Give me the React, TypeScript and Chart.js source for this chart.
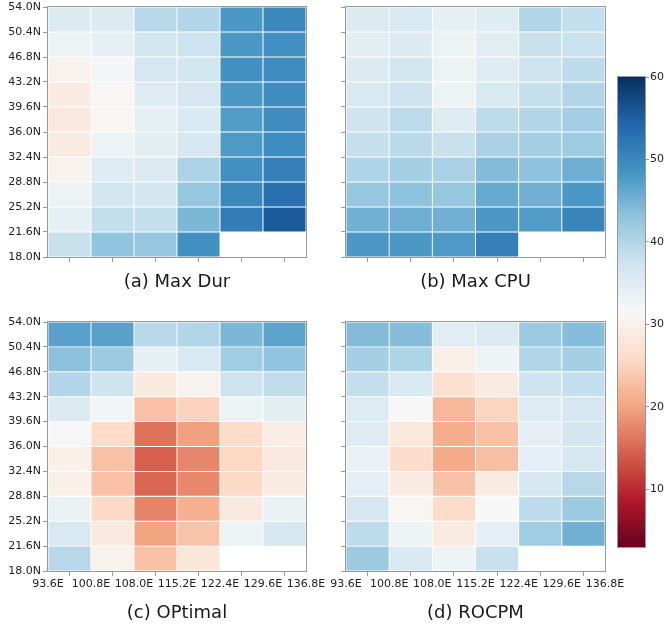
import React, { useEffect, useRef } from 'react';
import { Chart, registerables } from 'chart.js';
Chart.register(...registerables);

// ---------- data ----------
const lonTicks = [93.6, 100.8, 108.0, 115.2, 122.4, 129.6, 136.8];
const latTicks = [18.0, 21.6, 25.2, 28.8, 32.4, 36.0, 39.6, 43.2, 46.8, 50.4, 54.0];
const colorbarTicks = [10, 20, 30, 40, 50, 60];
const vmin = 3;
const vmax = 60;

// rows listed from north (50.4N-54.0N) to south (18.0N-21.6N), columns west -> east
const maxDur = [
  [35.5, 35.5, 39.5, 40, 48, 50],
  [33, 34, 37, 37.5, 48, 49],
  [30.5, 32, 36.5, 37, 49, 49.5],
  [29, 31, 35, 36.5, 48, 49.5],
  [28.5, 31, 34, 36, 47.5, 49.5],
  [29, 33, 34.5, 36.5, 47.8, 49.5],
  [30.5, 35, 35.5, 40.5, 49, 51],
  [33, 37, 36.7, 42.5, 50, 53],
  [34, 38.5, 38.5, 44.5, 51.5, 55.5],
  [38, 43, 42.5, 49, null, null],
];

const maxCPU = [
  [35.5, 36, 34, 35, 40, 38.5],
  [34.5, 35.5, 33, 34.8, 38, 37.8],
  [35.5, 37, 33, 35, 37.5, 39],
  [36, 37.5, 33, 36, 38.3, 40],
  [37.3, 39, 35, 39, 40, 41.3],
  [38.3, 39.3, 38, 40.7, 41.3, 41.8],
  [40.2, 41.3, 40.7, 44, 43.2, 45.5],
  [42.5, 43.2, 42.5, 46, 45.3, 48],
  [45.3, 45.5, 45.3, 48, 47.5, 50.5],
  [48, 48, 47.8, 51, null, null],
];

const optimal = [
  [47, 47, 39.5, 40, 44.5, 46.7],
  [43.3, 42, 34, 36, 41.5, 43],
  [40, 37.4, 28.7, 30.5, 37.5, 38.7],
  [35.5, 32.3, 23, 25, 33, 34.5],
  [31.7, 26, 16, 19.8, 26, 29.5],
  [30, 23, 14.4, 17.5, 25.5, 28.6],
  [30, 23, 15, 17.8, 25.7, 29],
  [33.5, 25.7, 17.3, 21.2, 28.6, 33.5],
  [36, 28.6, 20, 23.3, 33, 36.5],
  [39.5, 30.5, 23.1, 28, null, null],
];

const rocpm = [
  [44, 43.8, 34.8, 35.5, 42, 43.8],
  [41.2, 40.3, 29.8, 32.8, 40, 41.2],
  [38.5, 36, 27, 29, 37.4, 38.5],
  [35.4, 31.5, 22, 25.2, 35.2, 36.5],
  [35.2, 28.4, 21, 23.1, 34.2, 36.8],
  [33.5, 26.3, 20.6, 22.8, 34.2, 36.5],
  [34.3, 29, 23.2, 29, 36.5, 39.5],
  [36.5, 31, 26, 31.5, 39, 42],
  [39, 33, 29, 34.2, 41.5, 45.3],
  [42, 36, 32.8, 38, null, null],
];

const panelTitles = ['(a) Max Dur', '(b) Max CPU', '(c) OPtimal', '(d) ROCPM'];

// ---------- colormap (RdBu) ----------
const RDBU = ['#67001f', '#b2182b', '#d6604d', '#f4a582', '#fddbc7', '#f7f7f7', '#d1e5f0', '#92c5de', '#4393c3', '#2166ac', '#053061'];
function hex(h: string) {
  return [parseInt(h.slice(1, 3), 16), parseInt(h.slice(3, 5), 16), parseInt(h.slice(5, 7), 16)];
}
function cmap(v: number) {
  let t = (v - vmin) / (vmax - vmin);
  t = Math.max(0, Math.min(1, t));
  const s = t * 10;
  const i = Math.min(9, Math.floor(s));
  const f = s - i;
  const a = hex(RDBU[i]);
  const b = hex(RDBU[i + 1]);
  const c = a.map((x, k) => Math.round(x + (b[k] - x) * f));
  return `rgb(${c[0]},${c[1]},${c[2]})`;
}

const FONT = 'DejaVu Sans';
const W = 664;
const H = 625;

const framePlugin = {
  id: 'frame',
  afterDraw(chart: any) {
    const { ctx, chartArea: a } = chart;
    ctx.save();
    ctx.strokeStyle = '#999999';
    ctx.lineWidth = 1;
    const l = Math.round(a.left) - 0.5;
    const t = Math.round(a.top) - 0.5;
    const r = Math.round(a.right) + 0.5;
    const b = Math.round(a.bottom) + 0.5;
    ctx.strokeRect(l, t, r - l, b - t);
    ctx.restore();
  },
};

type PanelLayout = { left: number; top: number; width: number; height: number; showX: boolean; showY: boolean };
const layouts: PanelLayout[] = [
  { left: 48, top: 7, width: 258, height: 250, showX: false, showY: true },
  { left: 346, top: 7, width: 259, height: 250, showX: false, showY: false },
  { left: 48, top: 322, width: 258, height: 249, showX: true, showY: true },
  { left: 346, top: 322, width: 259, height: 249, showX: true, showY: false },
];
const titlePos = [
  { cx: 177, top: 270 },
  { cx: 475.5, top: 270 },
  { cx: 177, top: 601 },
  { cx: 475.5, top: 601 },
];

function buildDatasets(values: (number | null)[][]) {
  return values.map((row, r) => {
    const lo = latTicks[values.length - 1 - r];
    const hi = latTicks[values.length - r];
    const data: any[] = [];
    const colors: string[] = [];
    row.forEach((v, c) => {
      if (v === null) return;
      data.push({ x: (lonTicks[c] + lonTicks[c + 1]) / 2, y: [lo, hi] });
      colors.push(cmap(v));
    });
    return {
      data,
      backgroundColor: colors,
      borderColor: '#ffffff',
      borderWidth: 0.8,
      borderSkipped: false,
      grouped: false,
      barPercentage: 1,
      categoryPercentage: 1,
    };
  });
}

function makePanel(canvas: HTMLCanvasElement, values: (number | null)[][], L: PanelLayout) {
  const xAxisH = 20;
  return new Chart(canvas, {
    type: 'bar',
    data: { datasets: buildDatasets(values) as any },
    plugins: [framePlugin],
    options: {
      animation: false,
      responsive: false,
      events: [],
      layout: {
        autoPadding: false,
        padding: {
          left: L.left - 48,
          top: L.top,
          right: W - (L.left + L.width),
          bottom: H - (L.top + L.height) - xAxisH,
        },
      },
      plugins: { legend: { display: false }, tooltip: { enabled: false }, title: { display: false } },
      scales: {
        x: {
          type: 'linear',
          min: lonTicks[0],
          max: lonTicks[lonTicks.length - 1],
          offset: false,
          border: { display: false },
          grid: { drawOnChartArea: false, drawTicks: true, tickLength: 5, color: '#999999', lineWidth: 1 },
          ticks: {
            autoSkip: false,
            maxRotation: 0,
            minRotation: 0,
            padding: 2,
            color: '#222222',
            font: { family: FONT, size: 11 },
            callback: (v: any) => (L.showX ? `${Number(v).toFixed(1)}E` : ''),
          },
          afterBuildTicks: (s: any) => {
            s.ticks = lonTicks.map((v) => ({ value: v }));
          },
          afterFit: (s: any) => {
            s.height = xAxisH;
            s.paddingLeft = 0;
            s.paddingRight = 0;
          },
        } as any,
        y: {
          type: 'linear',
          min: latTicks[0],
          max: latTicks[latTicks.length - 1],
          border: { display: false },
          grid: { drawOnChartArea: false, drawTicks: true, tickLength: 5, color: '#999999', lineWidth: 1 },
          ticks: {
            autoSkip: false,
            padding: 2,
            color: '#222222',
            font: { family: FONT, size: 11 },
            callback: (v: any) => (L.showY ? `${Number(v).toFixed(1)}N` : ''),
          },
          afterBuildTicks: (s: any) => {
            s.ticks = latTicks.map((v) => ({ value: v }));
          },
          afterFit: (s: any) => {
            s.width = 48;
            s.paddingTop = 0;
            s.paddingBottom = 0;
          },
        } as any,
      },
    },
  });
}

function makeColorbar(canvas: HTMLCanvasElement) {
  const cb = { left: 618, top: 77, right: 645, bottom: 547 };
  return new Chart(canvas, {
    type: 'bar',
    data: {
      labels: ['colorbar'],
      datasets: [
        {
          data: [[vmin, vmax]] as any,
          backgroundColor: (ctx: any) => {
            const chart = ctx.chart;
            const ys = chart.scales && chart.scales.y;
            if (!chart.chartArea || !ys) return cmap((vmin + vmax) / 2);
            const g = chart.ctx.createLinearGradient(0, ys.getPixelForValue(vmin), 0, ys.getPixelForValue(vmax));
            RDBU.forEach((c, i) => g.addColorStop(i / 10, c));
            return g;
          },
          borderWidth: 0,
          barPercentage: 1,
          categoryPercentage: 1,
        },
      ],
    },
    plugins: [framePlugin],
    options: {
      animation: false,
      responsive: false,
      events: [],
      layout: { autoPadding: false, padding: { left: cb.left, top: cb.top, right: 0, bottom: H - cb.bottom } },
      plugins: { legend: { display: false }, tooltip: { enabled: false } },
      scales: {
        x: {
          display: false,
          afterFit: (s: any) => {
            s.height = 0;
            s.paddingLeft = 0;
            s.paddingRight = 0;
          },
        } as any,
        y: {
          position: 'right',
          min: vmin,
          max: vmax,
          border: { display: false },
          grid: { drawOnChartArea: false, drawTicks: true, tickLength: 4, color: '#999999' },
          ticks: { padding: 1, color: '#222222', font: { family: FONT, size: 11 } },
          afterBuildTicks: (s: any) => {
            s.ticks = colorbarTicks.map((v) => ({ value: v }));
          },
          afterFit: (s: any) => {
            s.width = W - cb.right;
            s.paddingTop = 0;
            s.paddingBottom = 0;
          },
        } as any,
      },
    },
  });
}

const canvasStyle: React.CSSProperties = { position: 'absolute', left: 0, top: 0, width: W, height: H };

export default function App() {
  const refs = [useRef<HTMLCanvasElement>(null), useRef<HTMLCanvasElement>(null), useRef<HTMLCanvasElement>(null), useRef<HTMLCanvasElement>(null)];
  const cbRef = useRef<HTMLCanvasElement>(null);

  useEffect(() => {
    const all = [maxDur, maxCPU, optimal, rocpm];
    const charts: Chart[] = [];
    refs.forEach((r, i) => {
      if (r.current) charts.push(makePanel(r.current, all[i], layouts[i]));
    });
    if (cbRef.current) charts.push(makeColorbar(cbRef.current));
    return () => charts.forEach((c) => c.destroy());
  }, []);

  return (
    <div style={{ position: 'absolute', left: 0, top: 0, width: W, height: H, background: '#fff', overflow: 'hidden' }}>
      {refs.map((r, i) => (
        <canvas key={i} ref={r} width={W} height={H} style={canvasStyle} />
      ))}
      <canvas ref={cbRef} width={W} height={H} style={canvasStyle} />
      {panelTitles.map((t, i) => (
        <div
          key={t}
          style={{
            position: 'absolute',
            left: titlePos[i].cx - 120,
            width: 240,
            top: titlePos[i].top,
            textAlign: 'center',
            fontFamily: FONT,
            fontSize: 18,
            lineHeight: '22px',
            color: '#1a1a1a',
          }}
        >
          {t}
        </div>
      ))}
    </div>
  );
}
